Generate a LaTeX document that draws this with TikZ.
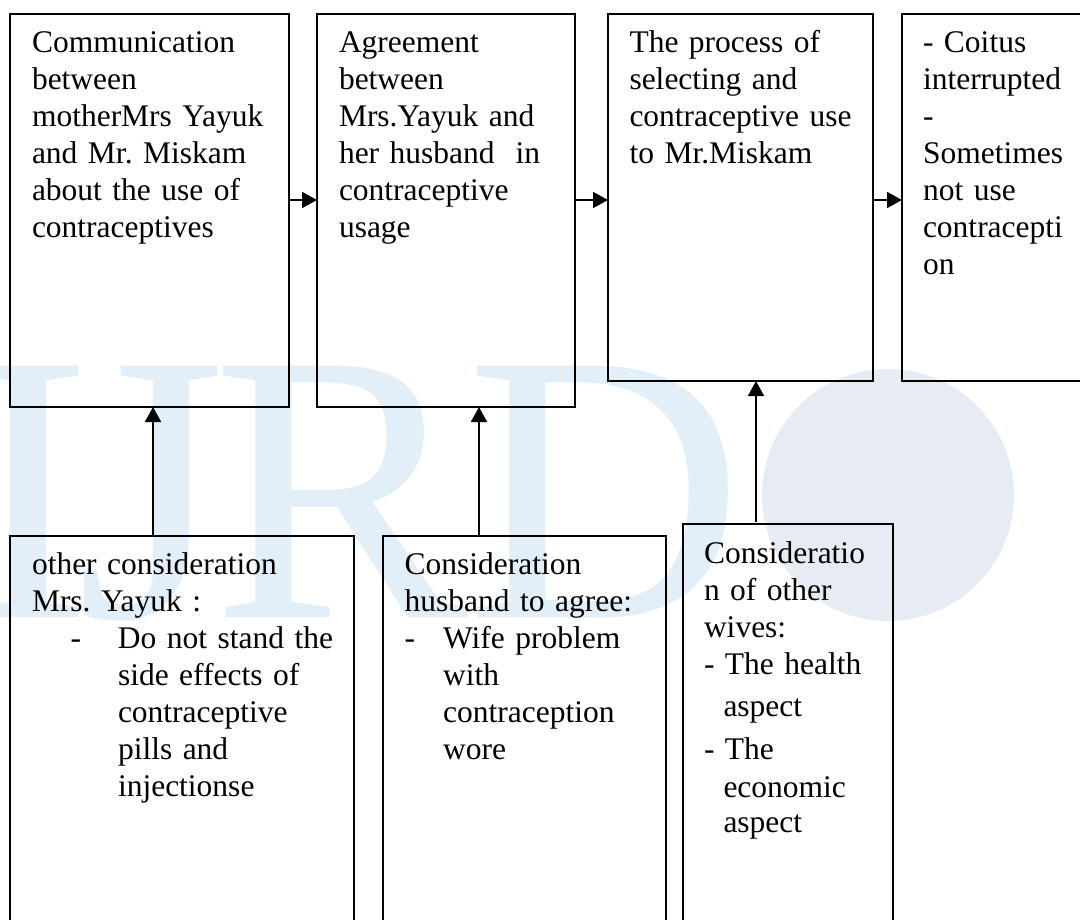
\documentclass[tikz,border=0pt]{standalone}
\usepackage{fontspec}
\setmainfont{Liberation Serif}
\usetikzlibrary{arrows.meta}
\definecolor{wmblue}{RGB}{226,239,249}
\definecolor{globecol}{RGB}{231,235,244}
\frenchspacing
\begin{document}
\begin{tikzpicture}[x=1pt,y=-1pt,
  box/.style={draw=black,line width=1.3pt,rectangle,inner sep=0pt,outer sep=0pt,anchor=north west},
  txt/.style={anchor=base west,inner sep=0pt,outer sep=0pt,text width=400pt,align=left,
              font=\fontsize{31.5}{37}\selectfont},
  arr/.style={line width=1.8pt,-{Triangle[length=15pt,width=16pt]}},
  wm/.style={text=wmblue,inner sep=0pt,anchor=base west,font=\fontsize{384}{384}\selectfont}]
\useasboundingbox (0,0) rectangle (1080,920);
\clip (0,0) rectangle (1080,920);
\fill[white] (0,0) rectangle (1080,920);

% watermark
\node[circle,fill=globecol,minimum size=252pt,inner sep=0pt] (globe) at (888,495) {};
\node[wm] (wmI) at (-36,617) {I};
\node[wm] (wmJ) at (76,617) {J};
\node[wm] (wmR) at (212,617) {R};
\node[wm] (wmD) at (466,617) {D};

% top boxes
\node[box,minimum width=279pt,minimum height=393pt] (A) at (10,14) {};
\node[box,minimum width=258pt,minimum height=393pt] (B) at (317,14) {};
\node[box,minimum width=265pt,minimum height=367pt] (C) at (608,14) {};
\node[box,minimum width=208pt,minimum height=367pt] (D) at (902,14) {};

% bottom boxes
\node[box,minimum width=344pt,minimum height=424pt] (E) at (10,536) {};
\node[box,minimum width=283pt,minimum height=424pt] (F) at (383,536) {};
\node[box,minimum width=210pt,minimum height=436pt] (G) at (683,524) {};

% texts
\node[txt] (tA) at (32,53) {Communication\\between\\motherMrs Yayuk\\and Mr. Miskam\\about the use of\\contraceptives};
\node[txt] (tB) at (339,53) {Agreement\\between\\Mrs.Yayuk and\\her husband\ \ in\\contraceptive\\usage};
\node[txt] (tC) at (629.5,53) {The process of\\selecting and\\contraceptive use\\to Mr.Miskam};
\node[txt] (tD) at (923,53) {- Coitus\\interrupted\\-\\Sometimes\\not use\\contracepti\\on};

\node[txt] (tE) at (32,574) {other consideration\\Mrs. Yayuk :\\
\makebox[86pt][l]{\hspace*{38.6pt}-}Do not stand the\\
\hspace*{86pt}side effects of\\
\hspace*{86pt}contraceptive\\
\hspace*{86pt}pills and\\
\hspace*{86pt}injectionse};
\node[txt] (tF) at (404.6,574) {Consideration\\husband to agree:\\
\makebox[38.5pt][l]{-}Wife problem\\
\hspace*{38.5pt}with\\
\hspace*{38.5pt}contraception\\
\hspace*{38.5pt}wore};
\node[txt] (tG) at (704,563) {Consideratio\\n of other\\wives:\\- The health\\[5pt]
\hspace*{19.5pt}aspect\\[6pt]
- The\\[1pt]
\hspace*{19.5pt}economic\\[-2pt]
\hspace*{19.5pt}aspect};

% connectors
\coordinate (hy) at (0,200);
\coordinate (v1) at (153,0);
\coordinate (v2) at (479,0);
\coordinate (v3) at (756,0);
\draw[arr] (A.east |- hy) -- (B.west |- hy);
\draw[arr] (B.east |- hy) -- (C.west |- hy);
\draw[arr] (C.east |- hy) -- (D.west |- hy);
\draw[arr] (E.north -| v1) -- (A.south -| v1);
\draw[arr] (F.north -| v2) -- (B.south -| v2);
\draw[arr,shorten <=2pt] (G.north -| v3) -- (C.south -| v3);
\end{tikzpicture}
\end{document}
